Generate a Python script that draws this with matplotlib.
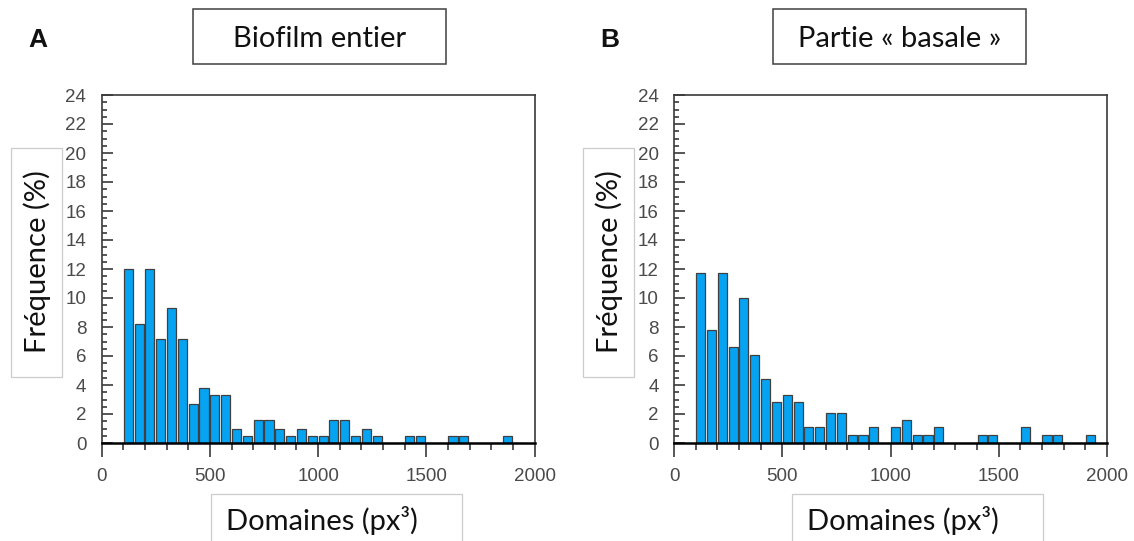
import numpy as np
import matplotlib
matplotlib.use('Agg')
from matplotlib import pyplot as plt
from matplotlib.patches import Rectangle
from matplotlib.ticker import MultipleLocator

# bin starts (px^3), 50 wide
bin_starts = list(range(100, 1950, 50))

# frequency (%) per bin
freq_entier = [12.0, 8.2, 12.0, 7.2, 9.3, 7.2, 2.7, 3.8, 3.3, 3.3,
               1.0, 0.5, 1.6, 1.6, 1.0, 0.5, 1.0, 0.5, 0.5, 1.6,
               1.6, 0.5, 1.0, 0.5, 0.0, 0.0, 0.5, 0.5, 0.0, 0.0,
               0.5, 0.5, 0.0, 0.0, 0.0, 0.5, 0.0]
freq_basale = [11.7, 7.8, 11.7, 6.6, 10.0, 6.1, 4.4, 2.8, 3.3, 2.8,
               1.1, 1.1, 2.1, 2.1, 0.55, 0.55, 1.1, 0.0, 1.1, 1.6,
               0.55, 0.55, 1.1, 0.0, 0.0, 0.0, 0.55, 0.55, 0.0, 0.0,
               1.1, 0.0, 0.55, 0.55, 0.0, 0.0, 0.55]

panel_letters = ['A', 'B']
titles = ['Biofilm entier', 'Partie « basale »']
x_label = 'Domaines (px³)'
y_label = 'Fréquence (%)'

W, H = 1134, 541
fig = plt.figure(figsize=(W / 100, H / 100), dpi=100)

label_font = 'Lato'
tick_font = 'Liberation Sans'
bar_color = '#05a3f2'
dark = '#3a3a3a'


def fx(px):
    return px / W


def fy(py):
    return 1 - py / H


def box(x0, y0, x1, y1, color, lw):
    fig.patches.append(Rectangle((fx(x0), fy(y1)), fx(x1 - x0), (y1 - y0) / H,
                                 transform=fig.transFigure, fill=False,
                                 edgecolor=color, linewidth=lw))


def draw_panel(left_px, freqs, letter, title, s_title, s_ylab, s_xlab):
    ax = fig.add_axes([fx(left_px), fy(443), fx(433), 348 / H])
    centers = np.array(bin_starts) + 23
    ax.bar(centers, freqs, width=42, color=bar_color, edgecolor='#404040',
           linewidth=0.9, zorder=2)
    ax.set_xlim(0, 2000)
    ax.set_ylim(0, 24)
    ax.xaxis.set_major_locator(MultipleLocator(500))
    ax.xaxis.set_minor_locator(MultipleLocator(100))
    ax.yaxis.set_major_locator(MultipleLocator(2))
    ax.yaxis.set_minor_locator(MultipleLocator(0.5))
    ax.tick_params(axis='x', which='major', direction='out', length=10, width=1.2,
                   color=dark, pad=8, labelsize=13.5, labelcolor='#4a4a4a')
    ax.tick_params(axis='x', which='minor', direction='out', length=5, width=1.2, color=dark)
    ax.tick_params(axis='y', which='major', direction='in', length=8, width=1.2,
                   color=dark, pad=11, labelsize=13.5, labelcolor='#4a4a4a')
    ax.tick_params(axis='y', which='minor', direction='in', length=3.5, width=1.2, color=dark)
    for lab in ax.get_xticklabels() + ax.get_yticklabels():
        lab.set_family(tick_font)
    for side in ['top', 'right', 'left']:
        ax.spines[side].set_color(dark)
        ax.spines[side].set_linewidth(1.2)
    ax.spines['bottom'].set_color('black')
    ax.spines['bottom'].set_linewidth(1.8)

    # title box
    box(193 + s_title, 9, 446 + s_title, 64, '#404040', 1.1)
    fig.text(fx(319.5 + s_title), fy(47), title, ha='center', va='baseline',
             fontsize=21, family=label_font, color='#111111')
    # y label box
    box(11 + s_ylab, 148, 62 + s_ylab, 377, '#cccccc', 0.9)
    fig.text(fx(37 + s_ylab), fy(262), y_label, ha='center', va='center', rotation=90,
             fontsize=21, family=label_font, color='#111111')
    # x label box
    box(211 + s_xlab, 494, 462 + s_xlab, 560, '#cccccc', 0.9)
    fig.text(fx(322 + s_xlab), fy(530), x_label, ha='center', va='baseline',
             fontsize=21, family=label_font, color='#111111')
    # panel letter
    fig.text(fx(38 + s_ylab), fy(47), letter, ha='center', va='baseline',
             fontsize=19, fontweight='bold', family=tick_font, color='#111111')
    return ax


draw_panel(101.6, freq_entier, panel_letters[0], titles[0], 0, 0, 0)
draw_panel(674, freq_basale, panel_letters[1], titles[1], 580, 572, 581)

fig.savefig('out.png', dpi=100)
